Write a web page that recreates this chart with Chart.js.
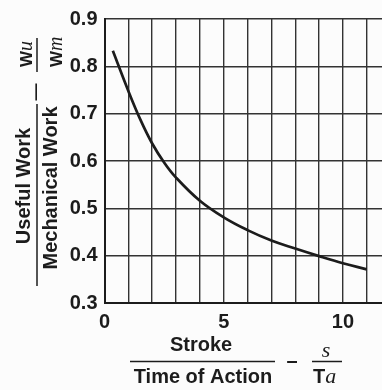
<!DOCTYPE html>
<html>
<head>
<meta charset="utf-8">
<script src="https://cdn.jsdelivr.net/npm/chart.js@4.4.1/dist/chart.umd.min.js"></script>
<style>
  html, body { margin: 0; padding: 0; background: #fcfcfc; }
  canvas { display: block; }
</style>
</head>
<body>
<canvas id="myChart" width="382" height="390"></canvas>
<script>
// stroke / time of action  vs  useful work / mechanical work
const strokeRatio = [0.35, 1.0, 1.5, 2.0, 2.5, 3.0, 4.0, 5.0, 6.0, 7.0, 8.0, 9.0, 10.0, 11.0];
const workRatio = [0.833, 0.748, 0.688, 0.637, 0.597, 0.565, 0.516, 0.481, 0.454, 0.432, 0.415, 0.399, 0.384, 0.371];
const xLabelTicks = [0, 5, 10];
const yTickLabels = ['0.3', '0.4', '0.5', '0.6', '0.7', '0.8', '0.9'];

const ink = '#1c1c1c';
const sans = '"Liberation Sans", Arial, sans-serif';
const serif = '"Liberation Serif", "Times New Roman", serif';

// axis titles are fractions, so they are drawn by hand
const fractionTitles = {
    id: 'fractionTitles',
    afterDraw(chart) {
        const c = chart.ctx;
        c.save();
        c.fillStyle = ink;
        c.strokeStyle = ink;
        c.lineWidth = 1.5;

        // x title
        c.font = 'bold 20px ' + sans;
        c.textAlign = 'center';
        c.textBaseline = 'alphabetic';
        c.fillText('Stroke', 201, 351);
        c.fillText('Time of Action', 203, 383);
        c.beginPath(); c.moveTo(130, 361.5); c.lineTo(275, 361.5); c.stroke();
        c.fillText('–', 292, 366.5);
        c.font = 'italic 22px ' + serif;
        c.fillText('s', 326, 357);
        c.beginPath(); c.moveTo(312, 361.5); c.lineTo(342, 361.5); c.stroke();
        c.textAlign = 'left';
        c.font = 'bold 20px ' + sans;
        c.fillText('T', 313, 383);
        const tw = c.measureText('T').width;
        c.font = 'italic 22px ' + serif;
        c.fillText('a', 313 + tw, 383);

        // y title (rotated)
        const rot = (x, y, fn) => {
            c.save(); c.translate(x, y); c.rotate(-Math.PI / 2); fn(); c.restore();
        };
        c.font = 'bold 20px ' + sans;
        c.textAlign = 'center';
        rot(30, 186, () => c.fillText('Useful Work', 0, 0));
        rot(56.5, 188, () => c.fillText('Mechanical Work', 0, 0));
        c.beginPath(); c.moveTo(37, 104); c.lineTo(37, 286); c.stroke();
        c.font = 'bold 17px ' + sans;
        rot(41, 92, () => c.fillText('—', 0, 0));
        c.beginPath(); c.moveTo(37, 38); c.lineTo(37, 72); c.stroke();
        c.textAlign = 'left';
        rot(31.5, 67, () => {
            c.font = 'bold 17px ' + sans;
            c.fillText('W', 0, 0);
            const w = c.measureText('W').width;
            c.font = 'italic 20px ' + serif;
            c.fillText('u', w, 0);
        });
        rot(61.5, 67, () => {
            c.font = 'bold 17px ' + sans;
            c.fillText('W', 0, 0);
            const w = c.measureText('W').width;
            c.font = 'italic 20px ' + serif;
            c.fillText('m', w, 0);
        });
        c.restore();
    }
};

const ctx = document.getElementById('myChart').getContext('2d');

new Chart(ctx, {
    type: 'line',
    data: {
        datasets: [{
            data: strokeRatio.map((s, i) => ({ x: s, y: workRatio[i] })),
            borderColor: ink,
            borderWidth: 2.7,
            pointRadius: 0,
            tension: 0.4,
            fill: false
        }]
    },
    options: {
        responsive: false,
        animation: false,
        layout: { padding: { top: 16.5, right: 0, left: 0, bottom: 0 } },
        plugins: { legend: { display: false }, tooltip: { enabled: false } },
        scales: {
            x: {
                type: 'linear',
                min: 0,
                max: 11.64,
                afterFit: s => { s.height = 87; },
                border: { display: true, color: ink, width: 2 },
                grid: { color: '#333', lineWidth: 1.4, drawTicks: false },
                ticks: {
                    stepSize: 1,
                    includeBounds: false,
                    autoSkip: false,
                    maxRotation: 0,
                    padding: 7,
                    color: ink,
                    font: { family: sans, size: 20, weight: 'bold' },
                    callback: v => xLabelTicks.includes(v) ? String(v) : ''
                }
            },
            y: {
                min: 0.3,
                max: 0.9,
                afterFit: s => { s.width = 104.5; },
                border: { display: true, color: ink, width: 2 },
                grid: { color: '#333', lineWidth: 1.4, drawTicks: false },
                ticks: {
                    stepSize: 0.1,
                    padding: 7,
                    color: ink,
                    font: { family: sans, size: 20, weight: 'bold' },
                    callback: v => yTickLabels[Math.round((v - 0.3) * 10)]
                }
            }
        }
    },
    plugins: [fractionTitles]
});
</script>
</body>
</html>
